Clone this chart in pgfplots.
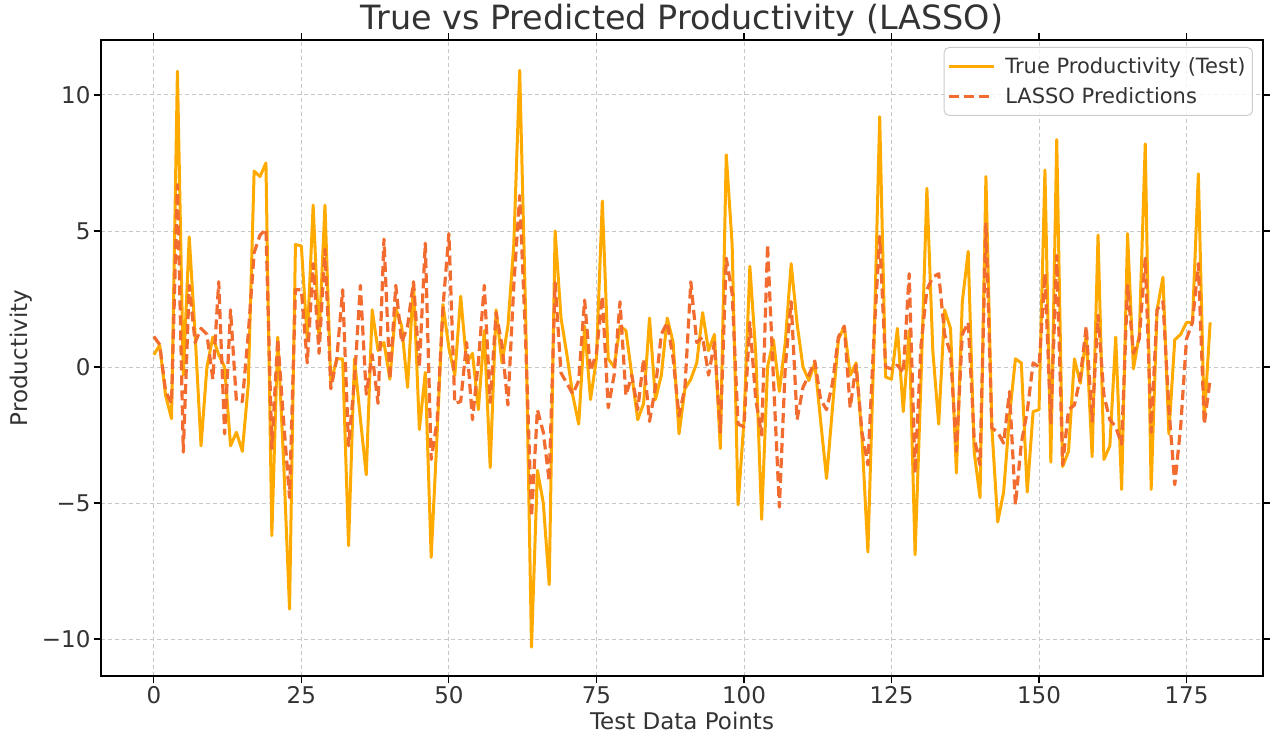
\documentclass[border=0pt]{standalone}
\usepackage{fontspec}
\setmainfont{DejaVu Sans}
\usepackage{pgfplots}
\usepackage{pgfplotstable}
\pgfplotsset{compat=1.18}
\definecolor{trueC}{HTML}{FFAA00}
\definecolor{predC}{HTML}{F26B2F}
\definecolor{txt}{HTML}{333333}
\pgfplotstableread{
x t p
0 0.45 1.12
1 0.8 0.82
2 -1.05 -0.9
3 -1.9 -1.34
4 10.87 6.7
5 -0.3 -3.13
6 4.78 3.0
7 1.2 0.9
8 -2.9 1.42
9 0.0 1.2
10 1.1 -0.45
11 0.45 3.13
12 0.0 -2.46
13 -2.9 2.1
14 -2.4 -1.27
15 -3.1 -1.27
16 -0.67 1.2
17 7.2 4.2
18 7.0 4.85
19 7.5 5.07
20 -6.2 -3.0
21 1.1 1.04
22 -3.5 -2.0
23 -8.9 -4.8
24 4.5 2.84
25 4.45 2.84
26 1.0 0.15
27 5.95 3.8
28 1.0 0.5
29 5.95 4.33
30 -0.6 -0.8
31 0.3 0.3
32 0.3 2.84
33 -6.57 -2.9
34 0.3 -0.5
35 -1.9 3.0
36 -3.96 -1.0
37 2.1 0.45
38 0.6 -1.34
39 0.9 4.7
40 -0.45 -0.45
41 2.16 3.0
42 1.5 0.9
43 -0.75 1.5
44 3.13 3.13
45 -2.3 0.0
46 -0.2 4.55
47 -7.0 -3.4
48 -2.5 -2.0
49 2.3 2.2
50 0.7 4.9
51 -0.3 -1.34
52 2.6 -1.27
53 0.15 0.9
54 0.5 -1.94
55 -1.57 0.2
56 1.34 3.0
57 -3.7 -1.3
58 2.1 2.0
59 0.15 0.8
60 1.5 -1.4
61 4.5 3.0
62 10.9 6.3
63 2.0 1.0
64 -10.3 -5.5
65 -3.8 -1.57
66 -5.0 -2.4
67 -8.0 -4.2
68 5.0 3.1
69 1.8 -0.22
70 0.45 -0.6
71 -1.05 -1.0
72 -2.1 -0.5
73 1.5 2.46
74 -1.2 -0.15
75 0.3 0.5
76 6.1 2.6
77 0.3 -1.5
78 0.0 -0.3
79 1.5 2.4
80 1.34 -1.05
81 -0.3 -0.3
82 -1.94 -1.57
83 -1.34 0.3
84 1.8 -2.0
85 -1.2 -0.75
86 -0.3 1.2
87 1.8 1.64
88 0.9 0.3
89 -2.46 -1.8
90 -0.8 -0.75
91 -0.45 3.13
92 0.15 0.9
93 2.0 1.1
94 0.6 -0.3
95 1.2 0.9
96 -3.0 -2.4
97 7.8 4.0
98 4.5 2.7
99 -5.07 -2.1
100 -2.0 -2.2
101 3.7 1.64
102 0.5 -1.2
103 -5.6 -2.5
104 0.0 4.5
105 1.0 -0.45
106 -0.9 -5.15
107 0.9 0.0
108 3.8 2.4
109 1.6 -1.94
110 0.0 -0.75
111 -0.5 -0.3
112 0.15 0.22
113 -2.0 -1.2
114 -4.1 -1.57
115 -1.5 -0.6
116 1.0 1.1
117 1.5 1.5
118 -0.3 -1.5
119 0.15 0.07
120 -2.6 -2.4
121 -6.8 -3.6
122 0.5 1.0
123 9.2 4.8
124 -0.37 0.0
125 -0.45 -0.07
126 1.42 0.07
127 -1.64 -0.22
128 1.34 3.43
129 -6.9 -3.9
130 -0.5 0.8
131 6.57 2.84
132 0.6 3.3
133 -2.1 3.43
134 2.1 1.2
135 1.42 0.5
136 -3.9 -3.1
137 2.4 1.2
138 4.25 1.64
139 -3.1 -2.6
140 -4.8 -3.6
141 7.0 5.3
142 -2.2 -2.24
143 -5.7 -2.4
144 -4.6 -2.8
145 -1.8 -0.9
146 0.3 -5.07
147 0.15 -2.8
148 -4.6 -1.64
149 -1.64 0.15
150 -1.57 0.0
151 7.24 3.43
152 -3.5 -2.1
153 8.36 4.1
154 -3.66 -3.6
155 -3.1 -1.57
156 0.3 -1.4
157 -0.6 -0.37
158 1.2 1.5
159 -3.3 -2.0
160 4.85 1.9
161 -3.4 -1.05
162 -2.9 -1.94
163 1.1 -2.2
164 -4.5 -2.84
165 4.9 3.0
166 -0.07 0.5
167 1.2 1.04
168 8.2 4.0
169 -4.5 -2.4
170 2.1 2.1
171 3.3 2.4
172 -2.46 -1.5
173 1.0 -4.33
174 1.2 -2.2
175 1.64 1.04
176 1.64 1.64
177 7.1 3.8
178 -1.94 -2.1
179 1.64 -0.45
}\data
\begin{document}
\begin{tikzpicture}
\path[use as bounding box] (-101pt,-64pt) rectangle (1173pt,676pt);
\begin{axis}[
  at={(0pt,0pt)}, anchor=south west,
  scale only axis, width=1162pt, height=636pt,
  xmin=-8.95, xmax=187.95, ymin=-11.36, ymax=12.02,
  xtick={0,25,50,75,100,125,150,175},
  xticklabels={0,25,50,75,100,125,150,175},
  ytick={-10,-5,0,5,10},
  yticklabels={−10,−5,0,5,10},
  grid=major,
  grid style={dash pattern=on 4pt off 3pt, color=black!22, line width=0.9pt},
  tick align=outside, major tick length=7pt,
  tick style={black, line width=1.2pt},
  axis line style={line width=1.4pt},
  ticklabel style={font=\fontsize{23}{27}\selectfont, text=txt},
  title={True vs Predicted Productivity (LASSO)},
  title style={at={(axis description cs:0.5,1)}, anchor=base, yshift=4pt,
    font=\fontsize{33.4}{38}\selectfont, text=txt},
  xlabel={Test Data Points},
  xlabel style={at={(axis description cs:0.5,0)}, anchor=base, yshift=-53pt,
    font=\fontsize{23}{27}\selectfont, text=txt},
  ylabel={Productivity},
  ylabel style={at={(axis description cs:0,0.5)}, anchor=base, yshift=73pt,
    font=\fontsize{23}{27}\selectfont, text=txt},
  legend cell align=left,
  legend style={at={(axis description cs:1,1)}, anchor=north east,
    xshift=-10pt, yshift=-7pt,
    font=\fontsize{21}{25}\selectfont, text=txt,
    draw=black!20, line width=1pt, rounded corners=5pt,
    fill=white, fill opacity=0.8, text opacity=1,
    inner xsep=3pt, inner ysep=8pt, row sep=9pt, column sep=6pt,
    nodes={inner xsep=4pt, inner ysep=2pt}},
  legend image code/.code={\draw[#1] (0pt,0pt) -- (45pt,0pt);},
]
\addplot[trueC, line width=3pt, line join=round] table[x=x, y=t] {\data};
\addlegendentry{True Productivity (Test)}
\addplot[predC, line width=3.2pt, line join=round, dash pattern=on 10pt off 5pt] table[x=x, y=p] {\data};
\addlegendentry{LASSO Predictions}
\end{axis}
\end{tikzpicture}
\end{document}
